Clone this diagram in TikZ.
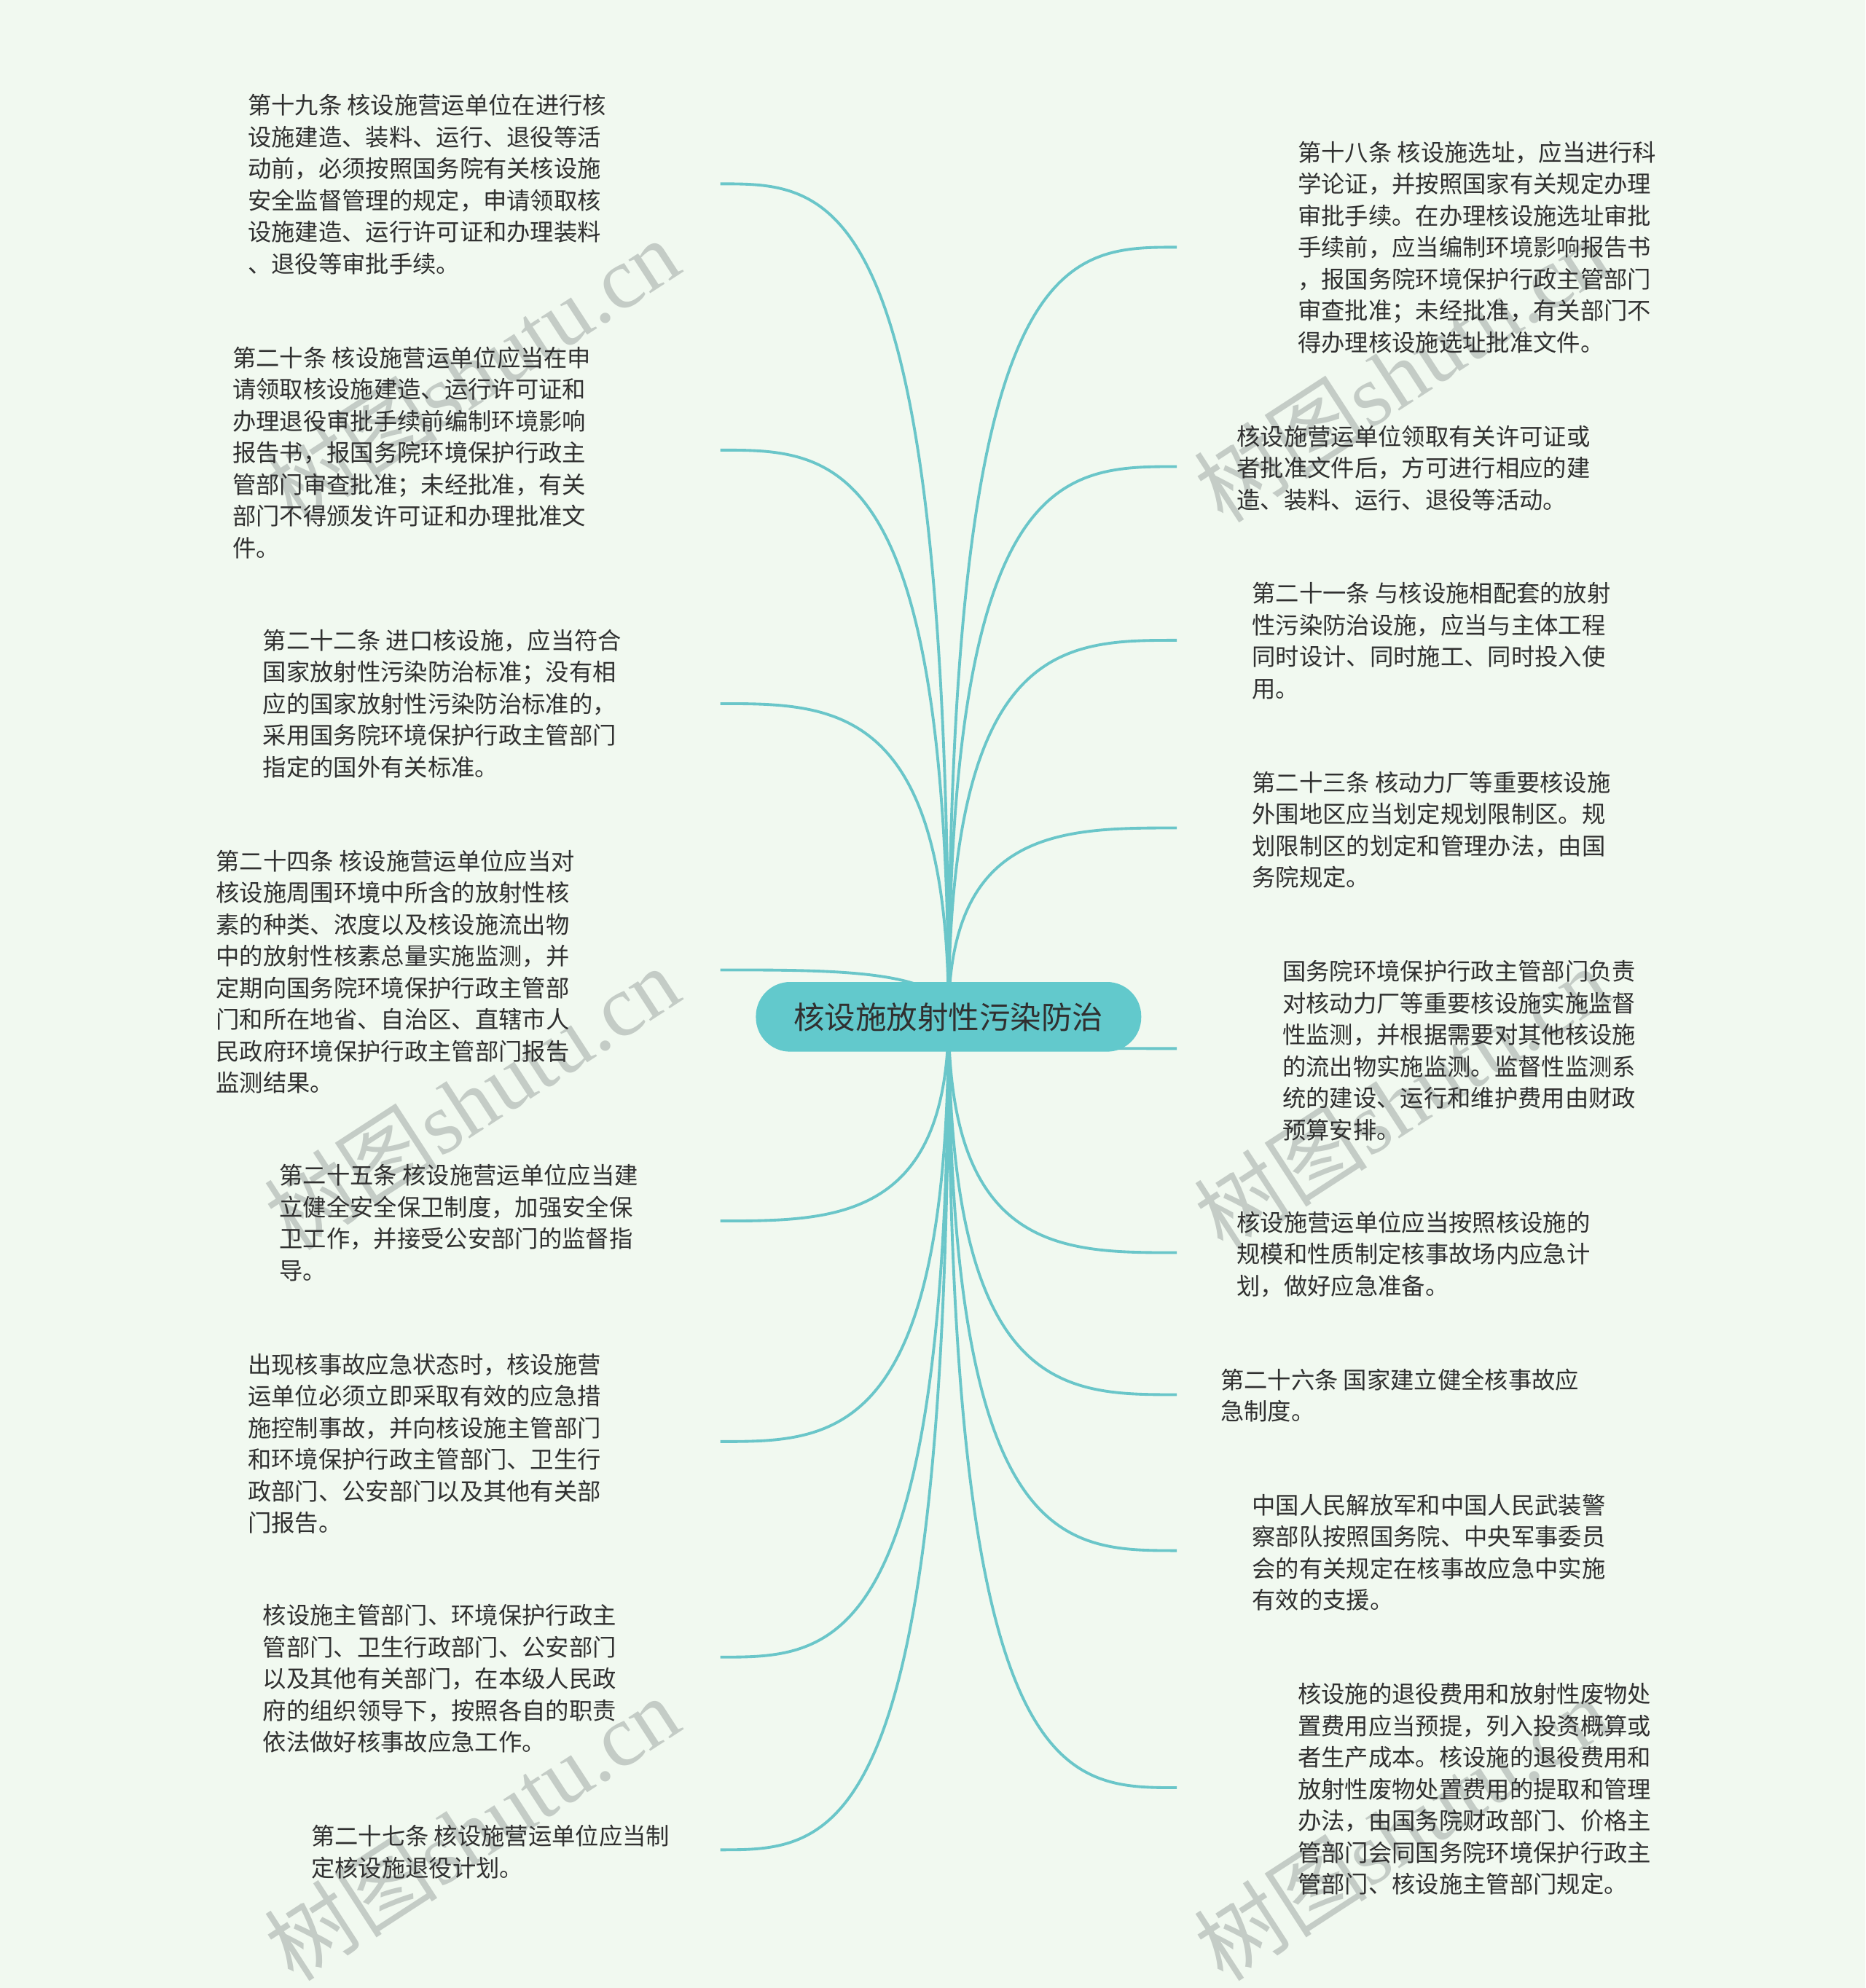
\documentclass[tikz,border=0pt]{standalone}
\usepackage{fontspec}
\setmainfont{Liberation Serif}
\newfontfamily\cjk{Noto Sans CJK SC}
\usetikzlibrary{calc}
\definecolor{bgc}{RGB}{241,249,240}
\definecolor{linkc}{RGB}{106,198,201}
\definecolor{rootc}{RGB}{98,201,204}
\definecolor{txtc}{RGB}{48,48,48}
\definecolor{wmc}{RGB}{196,204,198}
\tikzset{
  link/.style={draw=linkc, line width=1.1pt},
  leaf/.style={anchor=north west, inner sep=0pt, align=left, text=txtc,
    font={\cjk\fontsize{9.2}{12.38}\selectfont}},
  root/.style={fill=rootc, rounded corners=0.47cm, minimum width=5.29cm,
    minimum height=0.957cm, inner sep=0pt, text=txtc,
    font={\cjk\fontsize{12.1}{14}\selectfont}},
  wmark/.style={text=wmc, rotate=33, inner sep=0pt, font={\fontsize{34}{40}\selectfont}}
}
\begin{document}
\begin{tikzpicture}[x=0.0174031cm, y=-0.0174031cm]
\useasboundingbox (0,0) rectangle (1471,1568);
\fill[bgc] (0,0) rectangle (1471,1568);

% watermarks
\node[wmark] (w1) at (372,292) {{\cjk 树图}shutu.cn};
\node[wmark] (w2) at (372,866) {{\cjk 树图}shutu.cn};
\node[wmark] (w3) at (372,1442) {{\cjk 树图}shutu.cn};
\node[wmark] (w4) at (1105,292) {{\cjk 树图}shutu.cn};
\node[wmark] (w5) at (1105,866) {{\cjk 树图}shutu.cn};
\node[wmark] (w6) at (1105,1442) {{\cjk 树图}shutu.cn};

% connector end points
\coordinate (eL1) at (568,145);
\coordinate (eL2) at (568,355);
\coordinate (eL3) at (568,555);
\coordinate (eL4) at (568,765);
\coordinate (eL5) at (568,963);
\coordinate (eL6) at (568,1137);
\coordinate (eL7) at (568,1307);
\coordinate (eL8) at (568,1459);
\coordinate (eR1) at (928,195);
\coordinate (eR2) at (928,368);
\coordinate (eR3) at (928,505);
\coordinate (eR4) at (928,653);
\coordinate (eR5) at (928,827);
\coordinate (eR6) at (928,988);
\coordinate (eR7) at (928,1100);
\coordinate (eR8) at (928,1223);
\coordinate (eR9) at (928,1410);

\coordinate (c0) at (748,802);
\foreach \e in {eL1,eL2,eL3,eL4,eL5,eL6,eL7,eL8,eR1,eR2,eR3,eR4,eR5,eR6,eR7,eR8,eR9}{
  \draw[link] (c0) .. controls (c0 |- \e) and ($(c0 |- \e)!0.5!(\e)$) .. (\e);
}

\node[root] (c) at (c0) {核设施放射性污染防治};

% left leaves
\node[leaf] (L1) at (195,74) {第十九条 核设施营运单位在进行核\\设施建造、装料、运行、退役等活\\动前，必须按照国务院有关核设施\\安全监督管理的规定，申请领取核\\设施建造、运行许可证和办理装料\\、退役等审批手续。};
\node[leaf] (L2) at (183,273) {第二十条 核设施营运单位应当在申\\请领取核设施建造、运行许可证和\\办理退役审批手续前编制环境影响\\报告书，报国务院环境保护行政主\\管部门审查批准；未经批准，有关\\部门不得颁发许可证和办理批准文\\件。};
\node[leaf] (L3) at (207,496) {第二十二条 进口核设施，应当符合\\国家放射性污染防治标准；没有相\\应的国家放射性污染防治标准的，\\采用国务院环境保护行政主管部门\\指定的国外有关标准。};
\node[leaf] (L4) at (170,670) {第二十四条 核设施营运单位应当对\\核设施周围环境中所含的放射性核\\素的种类、浓度以及核设施流出物\\中的放射性核素总量实施监测，并\\定期向国务院环境保护行政主管部\\门和所在地省、自治区、直辖市人\\民政府环境保护行政主管部门报告\\监测结果。};
\node[leaf] (L5) at (220,918) {第二十五条 核设施营运单位应当建\\立健全安全保卫制度，加强安全保\\卫工作，并接受公安部门的监督指\\导。};
\node[leaf] (L6) at (195,1067) {出现核事故应急状态时，核设施营\\运单位必须立即采取有效的应急措\\施控制事故，并向核设施主管部门\\和环境保护行政主管部门、卫生行\\政部门、公安部门以及其他有关部\\门报告。};
\node[leaf] (L7) at (207,1265) {核设施主管部门、环境保护行政主\\管部门、卫生行政部门、公安部门\\以及其他有关部门，在本级人民政\\府的组织领导下，按照各自的职责\\依法做好核事故应急工作。};
\node[leaf] (L8) at (245,1439) {第二十七条 核设施营运单位应当制\\定核设施退役计划。};

% right leaves
\node[leaf] (R1) at (1023,111) {第十八条 核设施选址，应当进行科\\学论证，并按照国家有关规定办理\\审批手续。在办理核设施选址审批\\手续前，应当编制环境影响报告书\\，报国务院环境保护行政主管部门\\审查批准；未经批准，有关部门不\\得办理核设施选址批准文件。};
\node[leaf] (R2) at (975,335) {核设施营运单位领取有关许可证或\\者批准文件后，方可进行相应的建\\造、装料、运行、退役等活动。};
\node[leaf] (R3) at (987,459) {第二十一条 与核设施相配套的放射\\性污染防治设施，应当与主体工程\\同时设计、同时施工、同时投入使\\用。};
\node[leaf] (R4) at (987,608) {第二十三条 核动力厂等重要核设施\\外围地区应当划定规划限制区。规\\划限制区的划定和管理办法，由国\\务院规定。};
\node[leaf] (R5) at (1011,757) {国务院环境保护行政主管部门负责\\对核动力厂等重要核设施实施监督\\性监测，并根据需要对其他核设施\\的流出物实施监测。监督性监测系\\统的建设、运行和维护费用由财政\\预算安排。};
\node[leaf] (R6) at (975,955) {核设施营运单位应当按照核设施的\\规模和性质制定核事故场内应急计\\划，做好应急准备。};
\node[leaf] (R7) at (962,1079) {第二十六条 国家建立健全核事故应\\急制度。};
\node[leaf] (R8) at (987,1178) {中国人民解放军和中国人民武装警\\察部队按照国务院、中央军事委员\\会的有关规定在核事故应急中实施\\有效的支援。};
\node[leaf] (R9) at (1023,1327) {核设施的退役费用和放射性废物处\\置费用应当预提，列入投资概算或\\者生产成本。核设施的退役费用和\\放射性废物处置费用的提取和管理\\办法，由国务院财政部门、价格主\\管部门会同国务院环境保护行政主\\管部门、核设施主管部门规定。};
\end{tikzpicture}
\end{document}
